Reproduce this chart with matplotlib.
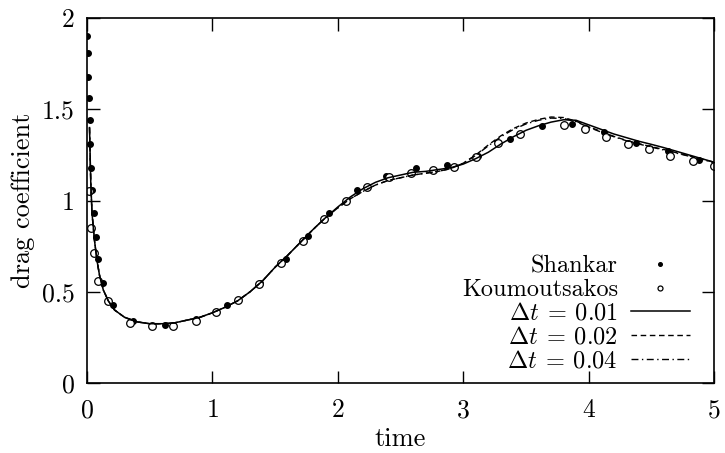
import matplotlib
matplotlib.use("Agg")
import matplotlib.pyplot as plt
import numpy as np

plt.rcParams['font.family'] = 'cmr10'
plt.rcParams['mathtext.fontset'] = 'cm'
plt.rcParams['axes.formatter.use_mathtext'] = True

# Shankar (filled circles)
shankar_t = [0.0, 0.006, 0.01, 0.014, 0.02, 0.026, 0.034, 0.042, 0.056, 0.072, 0.088,
             0.128, 0.207, 0.37, 0.62, 0.87, 1.12, 1.38, 1.585, 1.765, 1.93, 2.155,
             2.38, 2.626, 2.873, 3.12, 3.37, 3.63, 3.87, 4.12, 4.378, 4.63, 4.88]
shankar_cd = [1.90, 1.81, 1.68, 1.56, 1.44, 1.31, 1.18, 1.06, 0.93, 0.80, 0.68,
              0.55, 0.43, 0.34, 0.32, 0.35, 0.43, 0.55, 0.68, 0.805, 0.93, 1.056,
              1.137, 1.178, 1.193, 1.244, 1.337, 1.41, 1.42, 1.377, 1.318, 1.27, 1.22]

# Koumoutsakos (open circles)
koum_t = [0.016, 0.03, 0.053, 0.09, 0.167, 0.34, 0.516, 0.686, 0.867, 1.03, 1.20,
          1.374, 1.545, 1.72, 1.887, 2.063, 2.235, 2.41, 2.58, 2.757, 2.93, 3.10,
          3.28, 3.45, 3.80, 3.97, 4.14, 4.31, 4.48, 4.65, 4.83, 5.0]
koum_cd = [1.05, 0.85, 0.71, 0.56, 0.45, 0.33, 0.31, 0.314, 0.34, 0.39, 0.456,
           0.54, 0.66, 0.78, 0.90, 1.00, 1.077, 1.13, 1.15, 1.165, 1.185, 1.237,
           1.317, 1.366, 1.415, 1.39, 1.35, 1.31, 1.28, 1.247, 1.218, 1.19]

# simulation, dt = 0.01
t01 = [0.02, 0.03, 0.04, 0.06, 0.08, 0.10, 0.13, 0.17, 0.22, 0.30, 0.40, 0.50, 0.60,
       0.70, 0.80, 0.90, 1.00, 1.10, 1.20, 1.30, 1.40, 1.50, 1.60, 1.70, 1.80, 1.90,
       2.00, 2.10, 2.20, 2.30, 2.40, 2.50, 2.60, 2.70, 2.80, 2.90, 3.00, 3.10, 3.20,
       3.30, 3.40, 3.50, 3.60, 3.70, 3.80, 3.90, 4.00, 4.10, 4.20, 4.30, 4.40, 4.50,
       4.60, 4.70, 4.80, 4.90, 5.00]
cd01 = [1.40, 1.10, 0.93, 0.78, 0.67, 0.59, 0.51, 0.45, 0.40, 0.36, 0.335, 0.325, 0.325,
        0.33, 0.345, 0.36, 0.385, 0.415, 0.45, 0.50, 0.56, 0.635, 0.70, 0.77, 0.84, 0.905,
        0.965, 1.02, 1.065, 1.10, 1.125, 1.14, 1.155, 1.16, 1.17, 1.18, 1.20, 1.23, 1.265,
        1.31, 1.35, 1.385, 1.41, 1.43, 1.443, 1.44, 1.415, 1.39, 1.365, 1.345, 1.325, 1.308,
        1.29, 1.27, 1.25, 1.23, 1.21]

# simulation, dt = 0.02
t02 = t01
cd02 = [1.40, 1.10, 0.93, 0.78, 0.67, 0.59, 0.51, 0.45, 0.40, 0.36, 0.335, 0.325, 0.325,
        0.33, 0.345, 0.36, 0.385, 0.415, 0.45, 0.50, 0.56, 0.635, 0.70, 0.77, 0.84, 0.905,
        0.96, 1.01, 1.05, 1.085, 1.11, 1.125, 1.14, 1.15, 1.16, 1.175, 1.205, 1.25, 1.305,
        1.355, 1.395, 1.425, 1.445, 1.458, 1.455, 1.435, 1.405, 1.378, 1.352, 1.33, 1.312, 1.295,
        1.28, 1.262, 1.245, 1.228, 1.21]

# simulation, dt = 0.04
t04 = t01
cd04 = [1.40, 1.10, 0.93, 0.78, 0.67, 0.59, 0.51, 0.45, 0.40, 0.36, 0.335, 0.325, 0.325,
        0.33, 0.345, 0.36, 0.385, 0.415, 0.45, 0.50, 0.56, 0.635, 0.70, 0.77, 0.84, 0.905,
        0.96, 1.01, 1.05, 1.085, 1.11, 1.125, 1.14, 1.15, 1.16, 1.175, 1.205, 1.248, 1.30,
        1.35, 1.39, 1.42, 1.44, 1.452, 1.45, 1.432, 1.402, 1.375, 1.35, 1.328, 1.31, 1.293,
        1.277, 1.26, 1.243, 1.226, 1.208]

xticks = [0, 1, 2, 3, 4, 5]
yticks = [0, 0.5, 1, 1.5, 2]
ytick_labels = ["0", "0.5", "1", "1.5", "2"]

fig = plt.figure(figsize=(7.25, 4.53), dpi=100)
ax = fig.add_axes([0.12, 0.1545, 0.865, 0.8055])

ax.plot(shankar_t, shankar_cd, 'o', color='black', markersize=4, label='Shankar')
ax.plot(koum_t, koum_cd, 'o', mfc='white', mec='black', mew=0.9, markersize=5.5,
        label='Koumoutsakos')
ax.plot(t01, cd01, '-', color='black', lw=1.1, label=r'$\Delta t\:=\:0.01$')
ax.plot(t02, cd02, '--', color='black', lw=1.0, dashes=(4, 2.6),
        label=r'$\Delta t\:=\:0.02$')
ax.plot(t04, cd04, '-.', color='black', lw=1.0, dashes=(5, 2.5, 1, 2.5),
        label=r'$\Delta t\:=\:0.04$')

ax.set_xlim(0, 5)
ax.set_ylim(0, 2)
ax.set_xticks(xticks)
ax.set_yticks(yticks)
ax.set_yticklabels(ytick_labels)
ax.tick_params(direction='in', top=True, right=True, length=9, width=1,
               labelsize=18.5)
ax.tick_params(axis='x', pad=11)
ax.tick_params(axis='y', pad=9)
for s in ax.spines.values():
    s.set_linewidth(1.2)

ax.set_xlabel('time', fontsize=19, labelpad=4)
ax.set_ylabel('drag coefficient', fontsize=19, labelpad=5)

leg = ax.legend(loc='lower right', bbox_to_anchor=(0.988, -0.018), frameon=False,
                markerfirst=False, fontsize=17.5, handlelength=2.4, labelspacing=0.07,
                handletextpad=0.55, borderpad=0.2, markerscale=0.65)

fig.savefig('out.png', dpi=100)
